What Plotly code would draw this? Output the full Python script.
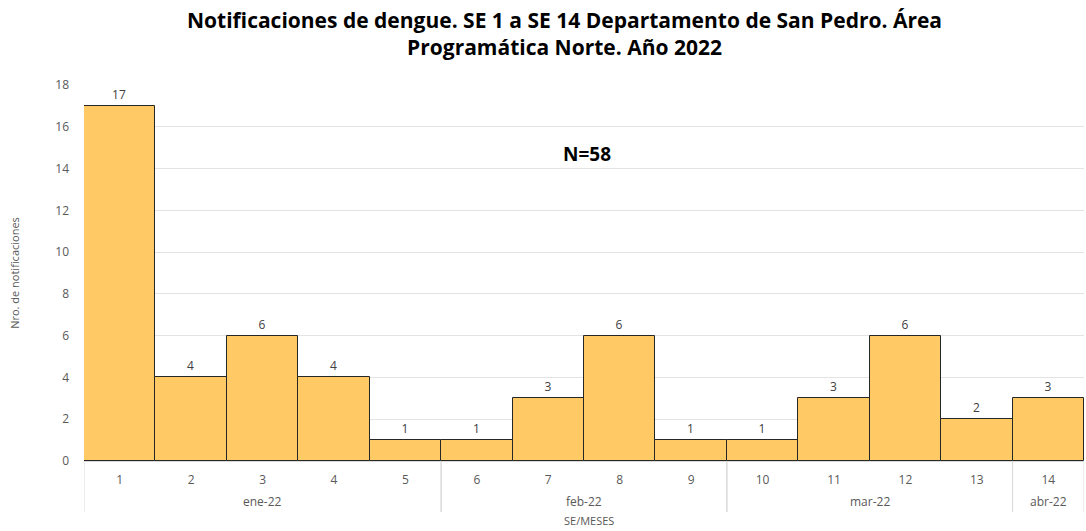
import plotly.graph_objects as go

semanas = ["1", "2", "3", "4", "5", "6", "7", "8", "9", "10", "11", "12", "13", "14"]
meses = ["ene-22"] * 5 + ["feb-22"] * 4 + ["mar-22"] * 4 + ["abr-22"]
notificaciones = [17, 4, 6, 4, 1, 1, 3, 6, 1, 1, 3, 6, 2, 3]

font_family = "Open Sans, Noto Sans, sans-serif"
posiciones = list(range(len(semanas)))

fig = go.Figure(
    go.Bar(
        x=posiciones,
        y=notificaciones,
        marker=dict(color="#FFCA65", line=dict(color="#262626", width=1)),
        text=notificaciones,
        textposition="outside",
        textfont=dict(size=12, color="#404040", family=font_family),
        cliponaxis=False,
    )
)

# month groups derived from data
grupos = []
inicio = 0
for i in range(1, len(meses) + 1):
    if i == len(meses) or meses[i] != meses[inicio]:
        grupos.append((meses[inicio], inicio, i - 1))
        inicio = i

# layout geometry (pixels)
H = 531
mt, mb = 85, 70
plot_h = H - mt - mb


def py(px):
    return (H - mb - px) / plot_h


annotations = [
    dict(
        text="<b>Notificaciones de dengue. SE 1 a SE 14 Departamento de San Pedro. Área<br>Programática Norte. Año 2022</b>",
        x=0.48, y=py(4), xref="paper", yref="paper", yanchor="top",
        showarrow=False, align="center",
        font=dict(size=21, color="#000000", family=font_family),
    ),
    dict(
        text="<b>N=58</b>",
        x=0.503, y=14.7, xref="paper", yref="y", showarrow=False,
        font=dict(size=19, color="#000000", family=font_family),
    ),
    dict(
        text="SE/MESES",
        x=0.505, y=py(520), xref="paper", yref="paper", yanchor="middle",
        showarrow=False,
        font=dict(size=11, color="#595959", family=font_family),
    ),
]
shapes = []
for nombre, a, b in grupos:
    annotations.append(
        dict(
            text=nombre, x=(a + b) / 2, y=py(501), xref="x", yref="paper",
            yanchor="middle", showarrow=False,
            font=dict(size=12, color="#595959", family=font_family),
        )
    )
    for edge in (a - 0.5, b + 0.5):
        shapes.append(
            dict(type="line", xref="x", yref="paper", x0=edge, x1=edge,
                 y0=0, y1=py(512), line=dict(color="#D9D9D9", width=1))
        )

fig.update_layout(
    width=1086,
    height=H,
    paper_bgcolor="white",
    plot_bgcolor="white",
    bargap=0,
    showlegend=False,
    font=dict(family=font_family, color="#595959"),
    margin=dict(l=84, r=2, t=mt, b=mb),
    annotations=annotations,
    shapes=shapes,
)

fig.update_yaxes(
    range=[0, 18],
    dtick=2,
    showgrid=True,
    gridcolor="#E3E3E3",
    gridwidth=1,
    zeroline=True,
    zerolinecolor="#D9D9D9",
    showline=False,
    ticks="",
    ticklabelstandoff=14,
    tickfont=dict(size=12, color="#595959"),
    title=dict(text="Nro. de notificaciones", font=dict(size=11, color="#595959"), standoff=33),
    automargin=False,
)

fig.update_xaxes(
    range=[-0.5, len(semanas) - 0.5],
    tickmode="array",
    tickvals=posiciones,
    ticktext=semanas,
    showgrid=False,
    zeroline=False,
    showline=True,
    linecolor="#D9D9D9",
    ticks="",
    ticklabelstandoff=8,
    tickfont=dict(size=12, color="#595959"),
    automargin=False,
)

fig.write_html(
    "out.html",
    config={"displayModeBar": False},
    post_script="document.body.style.margin='0';",
)
